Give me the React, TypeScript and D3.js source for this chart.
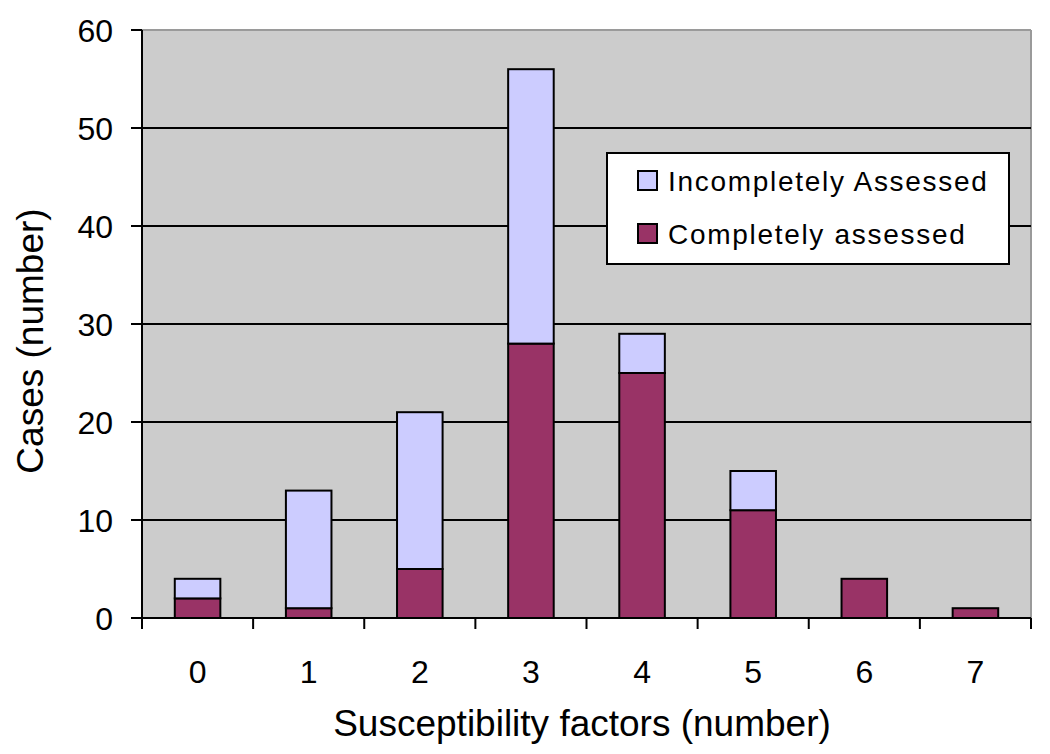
import React from 'react';
import * as d3 from 'd3';

const categories = ['0', '1', '2', '3', '4', '5', '6', '7'];
const completelyAssessed = [2, 1, 5, 28, 25, 11, 4, 1];
const incompletelyAssessed = [2, 12, 16, 28, 4, 4, 0, 0];
const yTicks = [0, 10, 20, 30, 40, 50, 60];
const seriesNames = ['Incompletely Assessed', 'Completely assessed'];

const W = 1050;
const H = 754;
const margin = { top: 30, right: 19, bottom: 136, left: 142 };
const font = '"Liberation Sans", Arial, sans-serif';

export default function App() {
  const plotW = W - margin.left - margin.right;
  const plotH = H - margin.top - margin.bottom;

  const x = d3.scaleBand<string>().domain(categories).range([0, plotW]).paddingInner(0.59).paddingOuter(0.295);
  const band = d3.scaleBand<string>().domain(categories).range([0, plotW]);
  const y = d3.scaleLinear().domain([0, 60]).range([plotH, 0]);

  const rows = categories.map((c, i) => ({
    cat: c,
    complete: completelyAssessed[i],
    incomplete: incompletelyAssessed[i],
  }));
  const stacked = d3.stack<any>().keys(['complete', 'incomplete'])(rows);
  const colors: Record<string, string> = { complete: '#993366', incomplete: '#ccccff' };

  const tickEdges = categories.map(c => band(c) || 0).concat([plotW]);

  return (
    <svg width={W} height={H} style={{ position: 'absolute', left: 0, top: 0, background: '#fff' }}>
      <g transform={`translate(${margin.left},${margin.top})`}>
        <rect x={0} y={0} width={plotW} height={plotH} fill="#cccccc" />
        <line x1={plotW} x2={plotW} y1={0} y2={plotH} stroke="#9a9a9a" strokeWidth={2} />
        <line x1={0} x2={plotW} y1={0} y2={0} stroke="#9a9a9a" strokeWidth={2} />
        {yTicks.slice(1, -1).map(t => (
          <line key={t} x1={0} x2={plotW} y1={y(t)} y2={y(t)} stroke="#000" strokeWidth={2} />
        ))}
        {stacked.map(s => (
          <g key={s.key}>
            {s.map((d, i) =>
              d[1] - d[0] > 0 ? (
                <rect
                  key={i}
                  x={x(categories[i])}
                  y={y(d[1])}
                  width={x.bandwidth()}
                  height={y(d[0]) - y(d[1])}
                  fill={colors[s.key]}
                  stroke="#000"
                  strokeWidth={2}
                />
              ) : null
            )}
          </g>
        ))}
        {/* axes */}
        <line x1={0} x2={0} y1={0} y2={plotH} stroke="#000" strokeWidth={2} />
        <line x1={0} x2={plotW} y1={plotH} y2={plotH} stroke="#000" strokeWidth={2} />
        {yTicks.map(t => (
          <g key={t}>
            <line x1={-11} x2={0} y1={y(t)} y2={y(t)} stroke="#000" strokeWidth={2} />
            <text x={-29} y={y(t)} dy="0.36em" textAnchor="end" fontFamily={font} fontSize={32} fill="#000">
              {t}
            </text>
          </g>
        ))}
        {tickEdges.map((e, i) => (
          <line key={i} x1={e} x2={e} y1={plotH} y2={plotH + 11} stroke="#000" strokeWidth={2} />
        ))}
        {categories.map(c => (
          <text
            key={c}
            x={(band(c) || 0) + band.bandwidth() / 2}
            y={plotH + 65}
            textAnchor="middle"
            fontFamily={font}
            fontSize={32}
            fill="#000"
          >
            {c}
          </text>
        ))}
        {/* legend */}
        <g transform="translate(465,123)">
          <rect x={0} y={0} width={402} height={111} fill="#fff" stroke="#000" strokeWidth={2} />
          {seriesNames.map((n, i) => (
            <g key={n} transform={`translate(31,${18 + i * 53})`}>
              <rect width={19} height={19} fill={i === 0 ? colors.incomplete : colors.complete} stroke="#000" strokeWidth={2} />
              <text x={30} y={20} fontFamily={font} fontSize={28} letterSpacing={1.7} fill="#000">
                {n}
              </text>
            </g>
          ))}
        </g>
      </g>
      <text x={582} y={736} textAnchor="middle" fontFamily={font} fontSize={37} fill="#000">
        Susceptibility factors (number)
      </text>
      <text
        transform={`translate(43,341) rotate(-90)`}
        textAnchor="middle"
        fontFamily={font}
        fontSize={37}
        fill="#000"
      >
        Cases (number)
      </text>
    </svg>
  );
}
